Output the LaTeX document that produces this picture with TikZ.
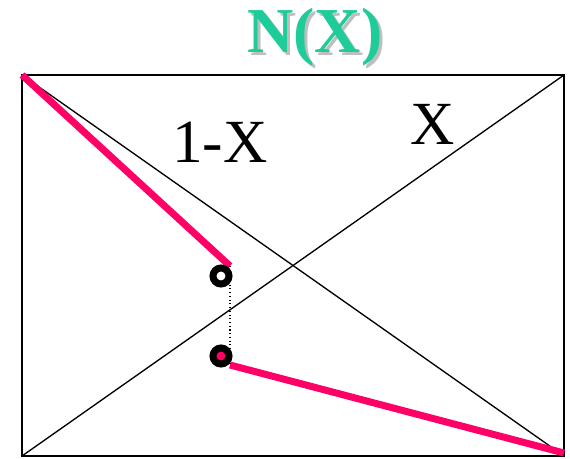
\documentclass[tikz,border=0pt]{standalone}
\usepackage{fontspec}
\setmainfont{Liberation Serif}
\usepackage{xcolor}
\definecolor{titlegreen}{RGB}{30,204,153}
\definecolor{shadowgrey}{RGB}{190,190,190}
\definecolor{hotpink}{RGB}{255,0,102}

\begin{document}
\begin{tikzpicture}[
    x=0.75pt, y=-0.75pt,
    frame/.style={draw=black, line width=1.2pt},
    diag/.style={draw=black, line width=1pt},
    pinkline/.style={draw=hotpink, line width=5.25pt, line cap=butt},
    ring/.style={circle, draw=black, line width=5.25pt, minimum size=12pt, inner sep=0pt},
    biglabel/.style={font=\fontsize{46}{50}\selectfont, anchor=base, inner sep=0pt}
]
\useasboundingbox (0,0) rectangle (570,459);
% corners of the box
\coordinate (tl) at (22,75);
\coordinate (tr) at (564,75);
\coordinate (bl) at (22,456);
\coordinate (br) at (564,456);
\draw[frame] (tl) rectangle (br);
\draw[diag] (tl) -- (br);
\draw[diag] (bl) -- (tr);
% title with shadow
\node[font=\fontsize{48}{52}\selectfont\bfseries, text=shadowgrey, anchor=base, inner sep=0pt]
    at (318,56) {N(X)};
\node[font=\fontsize{48}{52}\selectfont\bfseries, text=titlegreen, anchor=base, inner sep=0pt]
    (title) at (315,53) {N(X)};
\node[biglabel] (oneminus) at (220,163) {1-X};
\node[biglabel] (xlabel) at (433,145) {X};
% pink segments and the gap between them
\coordinate (upend) at (230,266);
\coordinate (lowstart) at (230,365);
\coordinate (pinkend) at (564,453);
\draw[pinkline] (tl) -- (upend);
\draw[pinkline] (lowstart) -- (pinkend);
\draw[black, line width=0.8pt, dotted] (upend) -- (lowstart);
\node[ring, fill=white] (upper) at (221,276) {};
\node[ring, fill=hotpink] (lower) at (221,356) {};
\end{tikzpicture}
\end{document}
